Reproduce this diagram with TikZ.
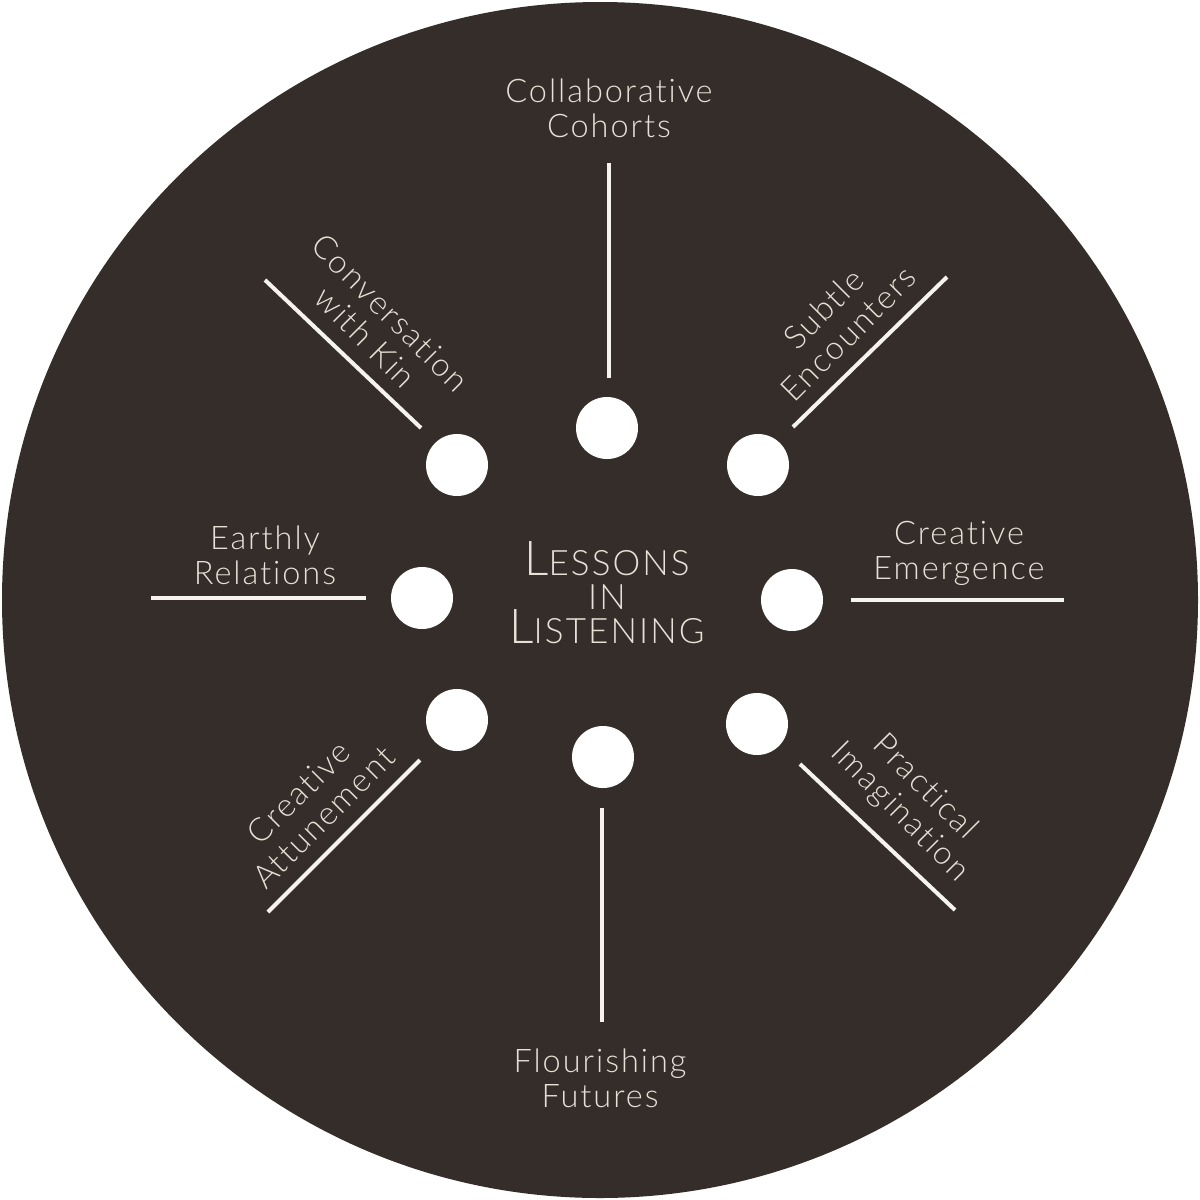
\documentclass[tikz,border=0pt]{standalone}
\usepackage{fontspec}
\setmainfont{Lato}[UprightFont=* Light,LetterSpace=6,Ligatures=NoCommon]
\definecolor{bg}{HTML}{352D29}
\definecolor{txt}{HTML}{E6E0D6}
\definecolor{ln}{HTML}{F6F3EE}
\begin{document}
\begin{tikzpicture}[x=1pt,y=-1pt,
  dot/.style={circle,fill=white,minimum size=62pt,inner sep=0pt},
  lbl/.style={text=txt,align=center,font=\fontsize{32.5}{35}\selectfont,inner sep=0pt},
  ttl/.style={text=txt,inner sep=0pt,anchor=base,font=\fontsize{35}{35}\selectfont},
  spoke/.style={draw=ln,line width=4pt}]
\useasboundingbox (0,0) rectangle (1200,1200);
\fill[white] (0,0) rectangle (1200,1200);
\node[circle,fill=bg,minimum size=1196pt,inner sep=0pt] (disc) at (600,600) {};
% title
\node[ttl] (t1) at (607,575) {{\fontsize{48}{48}\selectfont L}ESSONS};
\node[ttl] (t2) at (607,609) {IN};
\node[ttl] (t3) at (607,643) {{\fontsize{48}{48}\selectfont L}ISTENING};
% dots
\node[dot] (dN)  at (607,428) {};
\node[dot] (dNE) at (758,465) {};
\node[dot] (dE)  at (792,600) {};
\node[dot] (dSE) at (757,724) {};
\node[dot] (dS)  at (603,757) {};
\node[dot] (dSW) at (457,720) {};
\node[dot] (dW)  at (422,598) {};
\node[dot] (dNW) at (457,465) {};
% spoke ends
\coordinate (aN1) at (609,378);  \coordinate (aN2) at (609,163);
\coordinate (aNE1) at (793,427); \coordinate (aNE2) at (947,277);
\coordinate (aE1) at (851,600);  \coordinate (aE2) at (1064,600);
\coordinate (aSE1) at (800,764); \coordinate (aSE2) at (955,910);
\coordinate (aS1) at (602,808);  \coordinate (aS2) at (602,1022);
\coordinate (aSW1) at (420,760); \coordinate (aSW2) at (268,912);
\coordinate (aW1) at (366,598);  \coordinate (aW2) at (151,598);
\coordinate (aNW1) at (421,428); \coordinate (aNW2) at (265,280);
\foreach \k in {N,NE,E,SE,S,SW,W,NW} \draw[spoke] (a\k1) -- (a\k2);
% labels
\node[lbl] (lN) at (609,108) {Collaborative\\Cohorts};
\node[lbl] (lE) at (959,553) {Creative\\Emergence};
\node[lbl] (lS) at (600,1078) {Flourishing\\Futures};
\node[lbl] (lW) at (265,555) {Earthly\\Relations};
\node[lbl,rotate=45] (lNE) at (836,321) {Subtle\\Encounters};
\node[lbl,rotate=-45] (lNW) at (378,325) {Conversation\\with Kin};
\node[lbl,rotate=-45] (lSE) at (912,800) {Practical\\Imagination};
\node[lbl,rotate=45] (lSW) at (311,805) {Creative\\Attunement};
\end{tikzpicture}
\end{document}
